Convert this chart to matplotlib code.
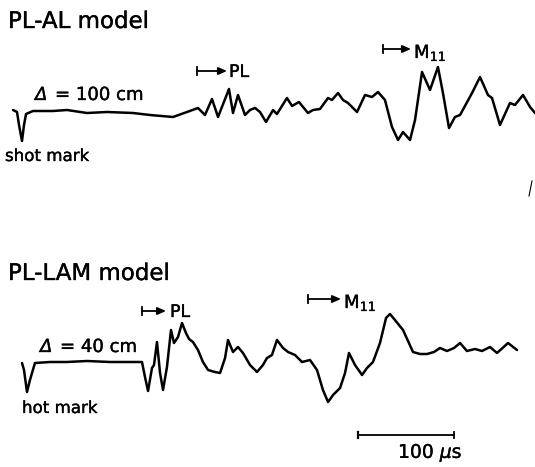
import matplotlib
matplotlib.use("Agg")
import matplotlib.pyplot as plt
import matplotlib.patheffects as pe

# ---------------- data (time in microseconds after shot mark, amplitude in arbitrary units)
al_time = [-9.4, -5.2, -3.1, 0.0, 2.1, 4.2, 11.5, 32.3, 46.9, 67.7, 88.5, 115.6, 133.3, 157.3,
           171.9, 183.3, 190.6, 197.9, 204.2, 215.6, 219.8, 225.0, 232.3, 237.5, 242.7, 247.9,
           254.2, 261.5, 265.6, 276.0, 281.3, 288.5, 297.9, 303.1, 310.4, 318.8, 322.9, 329.2,
           334.4, 339.6, 349.0, 357.3, 364.6, 370.8, 378.1, 385.4, 391.7, 396.9, 404.2, 409.4,
           416.7, 425.0, 433.3, 438.5, 444.8, 451.0, 456.3, 468.8, 477.1, 485.4, 489.6, 497.9,
           508.3, 513.5, 521.9, 529.2, 534.4]
al_amp = [2, 0, -13, -29, -13, -2, 1, 1, 2, -1, 0, -1, -3, -5,
          0, 4, -3, 13, -5, 23, -1, 17, -3, 2, 4, 0,
          -10, 2, -2, 14, 6, 10, -1, 2, 3, 14, 12, 19,
          12, 9, 0, 17, 15, 20, 12, -15, -28, -20, -28, -8,
          40, 22, 45, 19, -16, -5, -3, 19, 35, 17, 14, -13,
          9, 7, 17, 5, -1]

lam_time = [0.0, 2.1, 5.2, 8.3, 13.5, 29.2, 46.9, 67.7, 91.7, 115.6, 125.0, 128.1, 131.3, 135.4,
            137.5, 140.6, 143.8, 146.9, 151.0, 155.2, 158.3, 162.5, 166.7, 170.8, 174.0, 178.1,
            183.3, 188.5, 193.8, 201.0, 206.3, 211.5, 214.6, 219.8, 225.0, 230.2, 237.5, 244.8,
            251.0, 255.2, 260.4, 265.6, 271.9, 277.1, 284.4, 291.7, 300.0, 307.3, 313.5, 318.8,
            324.0, 331.3, 336.5, 340.6, 346.9, 354.2, 359.4, 365.6, 372.9, 379.2, 383.3, 388.5,
            396.9, 407.3, 414.6, 421.9, 429.2, 435.4, 442.7, 450.0, 456.3, 463.5, 471.9, 479.2,
            487.5, 494.8, 506.3, 515.6]
lam_amp = [-1, -8, -30, -18, -1, 0, 0, 1, 0, 0, 0, -15, -29, -6,
           -3, 20, -11, -28, -5, 32, 19, 25, 39, 29, 23, 20,
           12, 0, -8, -10, -11, 4, 22, 10, 15, 9, -3, -10,
           -3, 4, 7, 22, 14, 10, 7, 0, 2, -8, -28, -40,
           -33, -26, -11, 9, -3, -13, -6, 0, 19, 44, 48, 42,
           32, 10, 8, 8, 10, 14, 11, 14, 19, 11, 13, 11,
           15, 9, 19, 12]

titles = ["PL-AL model", "PL-LAM model"]
delta_symbol = "Δ"
distances = ["= 100 cm", "= 40 cm"]
mark_labels = ["shot mark", "hot mark"]
phase_labels = ["PL", "M$_{11}$"]
scale_value = 100  # microseconds
scale_label = "100 $\\mu$s"

# ---------------- figure
W, H = 535, 467
fig = plt.figure(figsize=(W / 100, H / 100), dpi=100)
ax = fig.add_axes([0, 0, 1, 1])
us_per_px = 100 / 96.0
x_origin = 22
ax.set_xlim(-x_origin * us_per_px, (W - x_origin) * us_per_px)
ax.set_ylim(0, H)
ax.axis("off")

off_top = H - 112
off_bot = H - 362
for t, a, off in ((al_time, al_amp, off_top), (lam_time, lam_amp, off_bot)):
    ax.plot(t, [off + v for v in a], color="black", lw=1.8,
            solid_joinstyle="round", solid_capstyle="round")

thick = [pe.withStroke(linewidth=0.25, foreground="black")]


def P(x, y):
    return (x / W, 1 - y / H)


def txt(x, y, s, size, **kw):
    ax.text(*P(x, y), s, transform=ax.transAxes, fontsize=size, ha="left",
            va="baseline", color="black", family="DejaVu Sans",
            path_effects=thick, **kw)


def bar_arrow(x0, x1, y):
    ax.annotate("", xy=P(x1, y), xytext=P(x0, y), xycoords="axes fraction",
                textcoords="axes fraction",
                arrowprops=dict(arrowstyle="-|>,head_length=0.5,head_width=0.22",
                                color="black", lw=1.3, shrinkA=0, shrinkB=0))
    xa, ya = P(x0, y - 4)
    xb, yb = P(x0, y + 4)
    ax.plot([xa, xb], [ya, yb], transform=ax.transAxes, color="black", lw=1.3)


# titles
txt(8, 28, titles[0], 16.5)
txt(8, 280, titles[1], 16.5)
# distances
txt(35, 100, delta_symbol, 13, style="italic")
txt(55, 100, distances[0], 13)
txt(40, 352, delta_symbol, 13, style="italic")
txt(60, 352, distances[1], 13)
# mark labels
txt(5, 161, mark_labels[0], 12)
txt(22, 413, mark_labels[1], 12)
# phase arrows
bar_arrow(197, 227, 71)
txt(229, 77, phase_labels[0], 12.5)
bar_arrow(383, 411, 49)
txt(414, 58, phase_labels[1], 13)
bar_arrow(142, 166, 311)
txt(170, 317, phase_labels[0], 12.5)
bar_arrow(308, 341, 299)
txt(344, 308, phase_labels[1], 13)

# small scan artefact
ax.plot(*zip(P(529, 196), P(532, 181)), transform=ax.transAxes, color="black", lw=0.8)

# scale bar
sb_y = H - 435
sb_t0 = (358 - x_origin) * us_per_px
ax.plot([sb_t0, sb_t0 + scale_value], [sb_y, sb_y], color="black", lw=1.3)
ax.plot([sb_t0, sb_t0], [sb_y - 3, sb_y + 3], color="black", lw=1.6)
ax.plot([sb_t0 + scale_value] * 2, [sb_y - 3, sb_y + 3], color="black", lw=1.3)
txt(398, 458, scale_label, 13.5)

fig.savefig("out.png", dpi=100)
